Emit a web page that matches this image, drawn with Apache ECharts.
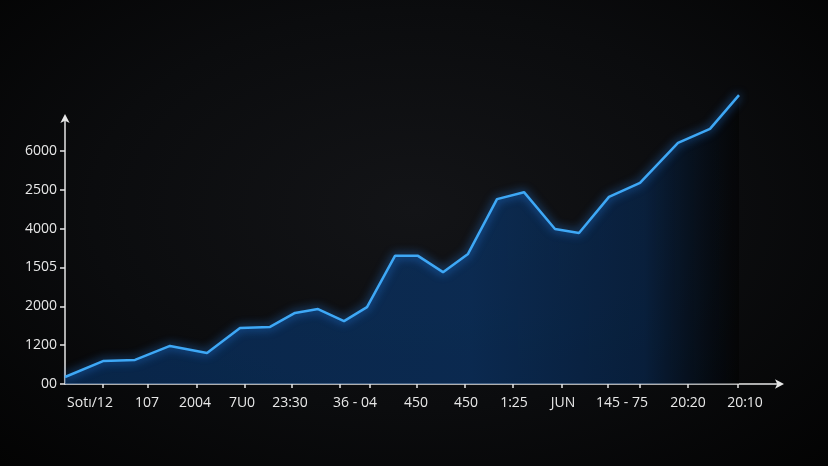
<!DOCTYPE html>
<html>
<head>
<meta charset="utf-8">
<script src="https://cdn.jsdelivr.net/npm/echarts@6/dist/echarts.min.js"></script>
<style>
html,body{margin:0;padding:0;width:828px;height:466px;overflow:hidden;
background:radial-gradient(ellipse at 50% 45%, #131417 0%, #0b0c0e 55%, #030303 100%);}
#c{width:828px;height:466px;}
</style>
</head>
<body>
<div id="c"></div>
<script>
// x positions (axis units) and values (in y tick-steps)
const xPos = [0, 38, 70, 105, 142, 175, 205, 230, 253, 279, 302, 330, 353, 378, 403, 432, 459, 490, 514, 544, 575, 613, 645, 674];
const yVal = [0.18, 0.59, 0.62, 0.98, 0.80, 1.44, 1.47, 1.83, 1.93, 1.62, 1.98, 3.30, 3.30, 2.88, 3.35, 4.76, 4.94, 3.99, 3.89, 4.82, 5.18, 6.21, 6.57, 7.44];
const xTickPos = [38, 83, 132, 180, 227, 275, 305, 352, 400, 448, 497, 543, 575, 623, 673];
const xLabelPos = [25, 82, 130, 177, 225, 290, 351, 401, 449, 498, 557, 623, 680];
const xLabels = ['Sotı/12', '107', '2004', '7U0', '23:30', '36 - 04', '450', '450', '1:25', 'JUN', '145 - 75', '20:20', '20:10'];
const yTickPos = [0, 1, 2, 3, 4, 5, 6];
const yLabels = ['00', '1200', '2000', '1505', '4000', '2500', '6000'];

const data = xPos.map((x, i) => [x, yVal[i]]);
const chart = echarts.init(document.getElementById('c'));
const axisColor = '#e6e6e6';
chart.setOption({
  backgroundColor: 'transparent',
  animation: false,
  grid: { left: 65, right: 48, top: 118, bottom: 82 },
  xAxis: {
    type: 'value', min: 0, max: 715,
    splitLine: { show: false },
    axisLine: { show: true, lineStyle: { color: axisColor, width: 1.5 }, symbol: ['none', 'arrow'], symbolSize: [7, 9], symbolOffset: [0, 4] },
    axisTick: { show: true, customValues: xTickPos, length: 4, inside: false, lineStyle: { color: axisColor, width: 1.5 } },
    axisLabel: {
      customValues: xLabelPos,
      formatter: v => { const i = xLabelPos.indexOf(v); return i >= 0 ? xLabels[i] : ''; },
      color: '#e8e8e8', fontSize: 14, fontFamily: 'Open Sans', margin: 12
    }
  },
  yAxis: {
    type: 'value', min: 0, max: 6.85,
    splitLine: { show: false },
    axisLine: { show: true, lineStyle: { color: axisColor, width: 1.5 }, symbol: ['none', 'arrow'], symbolSize: [7, 9], symbolOffset: [0, 4] },
    axisTick: { show: true, customValues: yTickPos, length: 5, lineStyle: { color: axisColor, width: 1.5 } },
    axisLabel: {
      customValues: yTickPos,
      formatter: v => { const i = yTickPos.indexOf(v); return i >= 0 ? yLabels[i] : ''; },
      color: '#e8e8e8', fontSize: 14, fontFamily: 'Open Sans', margin: 8
    }
  },
  series: [{
    type: 'line',
    data: data,
    clip: false,
    symbol: 'none',
    lineStyle: { color: '#3ea8f6', width: 2.5, shadowColor: 'rgba(40,140,255,0.9)', shadowBlur: 10 },
    areaStyle: {
      color: new echarts.graphic.LinearGradient(0, 0, 1, 0, [
        { offset: 0, color: 'rgba(9,52,104,0.95)' },
        { offset: 0.6, color: 'rgba(10,56,112,0.95)' },
        { offset: 0.86, color: 'rgba(7,44,90,0.85)' },
        { offset: 1, color: 'rgba(0,0,0,0.6)' }
      ])
    }
  }]
});
</script>
</body>
</html>
